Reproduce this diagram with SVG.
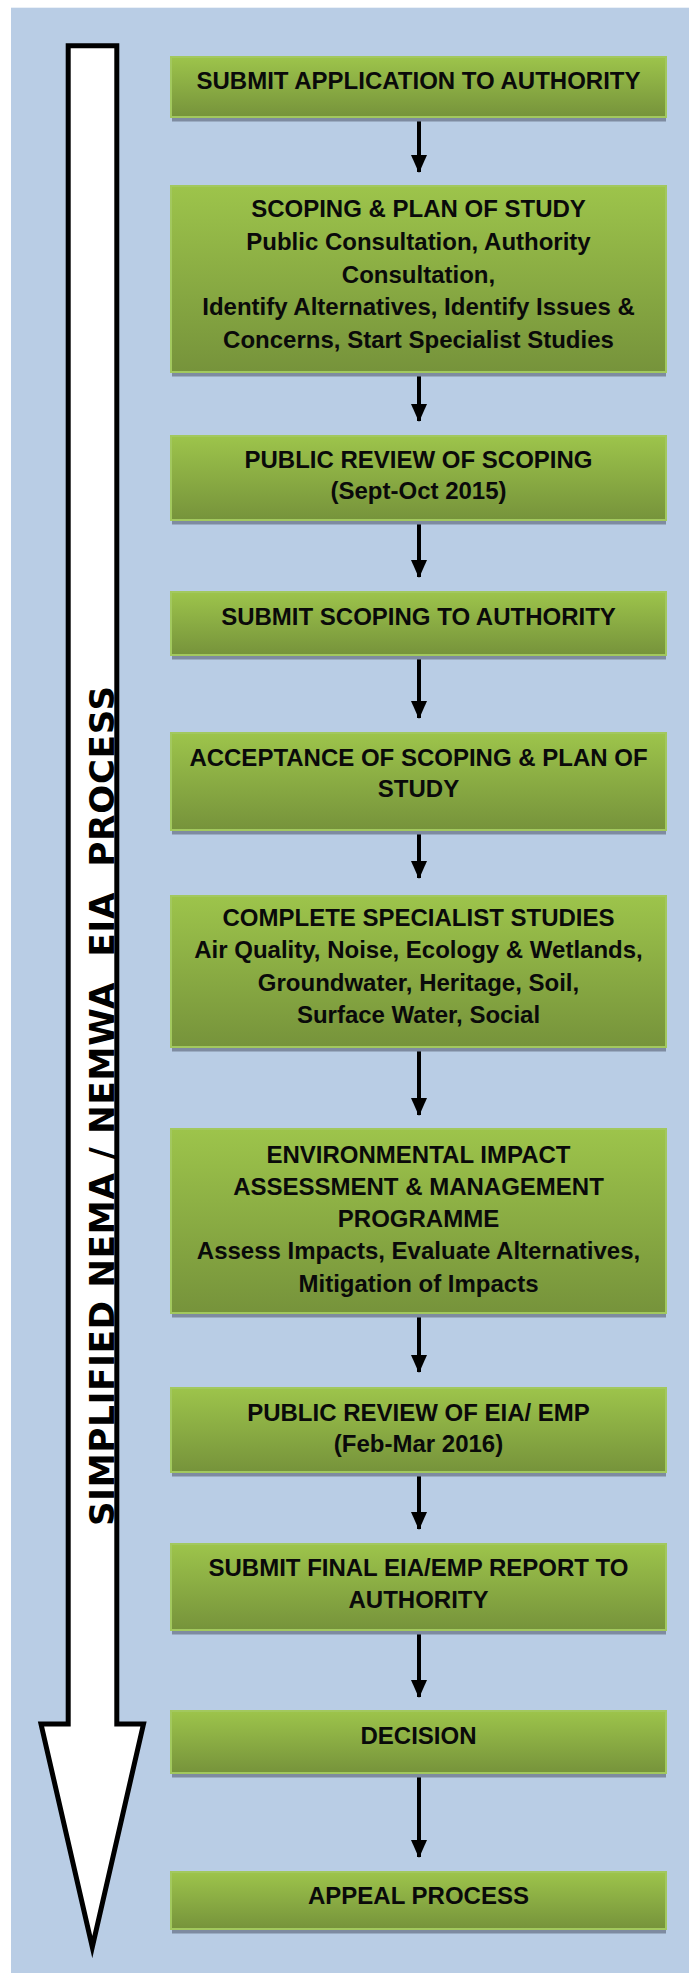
<svg xmlns="http://www.w3.org/2000/svg" width="689" height="1973" viewBox="0 0 689 1973">
<defs>
<linearGradient id="g" x1="0" y1="0" x2="0" y2="1">
<stop offset="0" stop-color="#9DC44B"/>
<stop offset="1" stop-color="#76933B"/>
</linearGradient>
<marker id="ah" markerUnits="userSpaceOnUse" markerWidth="18" markerHeight="16" viewBox="0 0 18 16" refX="17" refY="8" orient="auto">
<path d="M0,0 L18,8 L0,16 Z" fill="#000"/>
</marker>
<style>
.bx{fill:url(#g);stroke:#A2C85E;stroke-width:2}
.sh{fill:#7E8BA0}
.t{font-family:"Liberation Sans",Arial,sans-serif;font-weight:bold;font-size:24px;fill:#0A0A0A;text-anchor:middle}
.c{stroke:#000;stroke-width:4;fill:none}
.v{font-family:"DejaVu Sans",sans-serif;font-weight:bold;font-size:34px;fill:#000;white-space:pre}
</style>
</defs>
<rect x="11" y="7.7" width="678" height="1966" fill="#B9CDE5"/>
<g id="bigarrow">
<polygon points="68.2,45.8 116.8,45.8 116.8,1724 143.5,1724 92.3,1947 41,1724 68.2,1724" fill="#fff" stroke="#000" stroke-width="5" stroke-miterlimit="12"/>
<text class="v" transform="translate(114,1526) rotate(-90)" x="0" y="0" textLength="840" lengthAdjust="spacing" xml:space="preserve">SIMPLIFIED NEMA / NEMWA  EIA  PROCESS</text>
</g>
<g id="connectors">
<line class="c" x1="419" y1="117" x2="419" y2="172" marker-end="url(#ah)"/>
<line class="c" x1="419" y1="372" x2="419" y2="421" marker-end="url(#ah)"/>
<line class="c" x1="419" y1="520" x2="419" y2="577" marker-end="url(#ah)"/>
<line class="c" x1="419" y1="655" x2="419" y2="718" marker-end="url(#ah)"/>
<line class="c" x1="419" y1="830" x2="419" y2="878" marker-end="url(#ah)"/>
<line class="c" x1="419" y1="1047" x2="419" y2="1115" marker-end="url(#ah)"/>
<line class="c" x1="419" y1="1313" x2="419" y2="1372" marker-end="url(#ah)"/>
<line class="c" x1="419" y1="1472" x2="419" y2="1529" marker-end="url(#ah)"/>
<line class="c" x1="419" y1="1630" x2="419" y2="1697" marker-end="url(#ah)"/>
<line class="c" x1="419" y1="1773" x2="419" y2="1857" marker-end="url(#ah)"/>
</g>
<g id="n1">
<rect class="sh" x="172" y="61.5" width="494" height="60"/>
<rect class="bx" x="171" y="57" width="495" height="60"/>
<text class="t" x="418.5" y="89">SUBMIT APPLICATION TO AUTHORITY</text>
</g>
<g id="n2">
<rect class="sh" x="172" y="190.5" width="494" height="186"/>
<rect class="bx" x="171" y="186" width="495" height="186"/>
<text class="t" x="418.5" y="217">SCOPING &amp; PLAN OF STUDY</text>
<text class="t" x="418.5" y="250">Public Consultation, Authority</text>
<text class="t" x="418.5" y="283">Consultation,</text>
<text class="t" x="418.5" y="315">Identify Alternatives, Identify Issues &amp;</text>
<text class="t" x="418.5" y="348">Concerns, Start Specialist Studies</text>
</g>
<g id="n3">
<rect class="sh" x="172" y="440.5" width="494" height="84"/>
<rect class="bx" x="171" y="436" width="495" height="84"/>
<text class="t" x="418.5" y="468">PUBLIC REVIEW OF SCOPING</text>
<text class="t" x="418.5" y="499">(Sept-Oct 2015)</text>
</g>
<g id="n4">
<rect class="sh" x="172" y="596.5" width="494" height="63"/>
<rect class="bx" x="171" y="592" width="495" height="63"/>
<text class="t" x="418.5" y="625">SUBMIT SCOPING TO AUTHORITY</text>
</g>
<g id="n5">
<rect class="sh" x="172" y="737.5" width="494" height="97"/>
<rect class="bx" x="171" y="733" width="495" height="97"/>
<text class="t" x="418.5" y="766">ACCEPTANCE OF SCOPING &amp; PLAN OF</text>
<text class="t" x="418.5" y="797">STUDY</text>
</g>
<g id="n6">
<rect class="sh" x="172" y="900.5" width="494" height="151"/>
<rect class="bx" x="171" y="896" width="495" height="151"/>
<text class="t" x="418.5" y="926">COMPLETE SPECIALIST STUDIES</text>
<text class="t" x="418.5" y="958">Air Quality, Noise, Ecology &amp; Wetlands,</text>
<text class="t" x="418.5" y="991">Groundwater, Heritage, Soil,</text>
<text class="t" x="418.5" y="1023">Surface Water, Social</text>
</g>
<g id="n7">
<rect class="sh" x="172" y="1133.5" width="494" height="184"/>
<rect class="bx" x="171" y="1129" width="495" height="184"/>
<text class="t" x="418.5" y="1163">ENVIRONMENTAL IMPACT</text>
<text class="t" x="418.5" y="1195">ASSESSMENT &amp; MANAGEMENT</text>
<text class="t" x="418.5" y="1227">PROGRAMME</text>
<text class="t" x="418.5" y="1259">Assess Impacts, Evaluate Alternatives,</text>
<text class="t" x="418.5" y="1292">Mitigation of Impacts</text>
</g>
<g id="n8">
<rect class="sh" x="172" y="1392.5" width="494" height="84"/>
<rect class="bx" x="171" y="1388" width="495" height="84"/>
<text class="t" x="418.5" y="1421">PUBLIC REVIEW OF EIA/ EMP</text>
<text class="t" x="418.5" y="1452">(Feb-Mar 2016)</text>
</g>
<g id="n9">
<rect class="sh" x="172" y="1548.5" width="494" height="86"/>
<rect class="bx" x="171" y="1544" width="495" height="86"/>
<text class="t" x="418.5" y="1576">SUBMIT FINAL EIA/EMP REPORT TO</text>
<text class="t" x="418.5" y="1608">AUTHORITY</text>
</g>
<g id="n10">
<rect class="sh" x="172" y="1715.5" width="494" height="62"/>
<rect class="bx" x="171" y="1711" width="495" height="62"/>
<text class="t" x="418.5" y="1744">DECISION</text>
</g>
<g id="n11">
<rect class="sh" x="172" y="1876.5" width="494" height="57"/>
<rect class="bx" x="171" y="1872" width="495" height="57"/>
<text class="t" x="418.5" y="1904">APPEAL PROCESS</text>
</g>
</svg>
